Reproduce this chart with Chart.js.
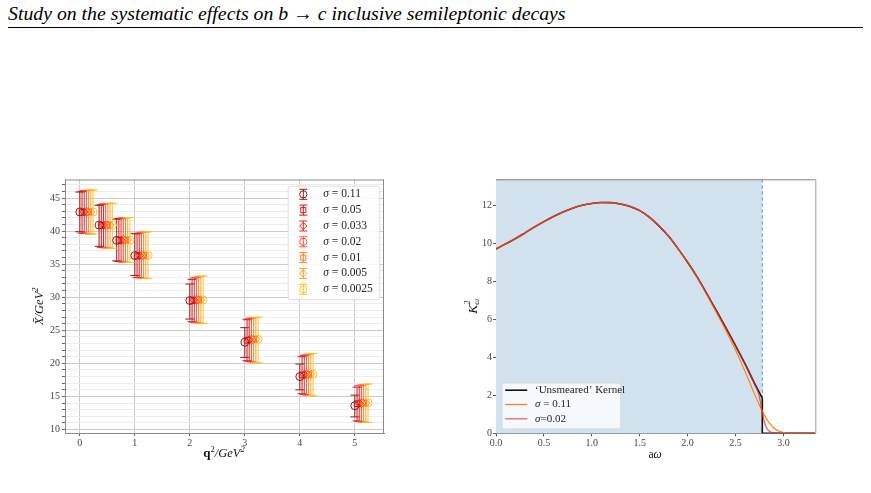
<!DOCTYPE html>
<html>
<head>
<meta charset="utf-8">
<script src="https://cdn.jsdelivr.net/npm/chart.js@4.4.0/dist/chart.umd.min.js"></script>
<style>
body { margin: 0; background: #fff; width: 871px; height: 493px; overflow: hidden; position: relative; font-family: 'Liberation Serif', serif; }
#hdr { position: absolute; left: 8px; top: 2px; font-family: 'Liberation Serif', 'Times New Roman', serif; font-style: italic; font-size: 19.8px; white-space: nowrap; color: #000; }
#rule { position: absolute; left: 8px; top: 27px; width: 855px; height: 1px; background: #000; }
#w1 { position: absolute; left: 0; top: 170px; width: 400px; height: 300px; }
#w2 { position: absolute; left: 440px; top: 170px; width: 420px; height: 300px; }
</style>
</head>
<body>
<div id="hdr">Study on the systematic effects on b → c inclusive semileptonic decays</div>
<div id="rule"></div>
<div id="w1"><canvas id="errChart" width="400" height="300"></canvas></div>
<div id="w2"><canvas id="kernelChart" width="420" height="300"></canvas></div>
<script>
// ---- left panel: X-bar vs q^2 for several sigma ----
const q2 = [0, 0.35, 0.67, 1, 2, 3, 4, 5];
const sigmas = ['0.11', '0.05', '0.033', '0.02', '0.01', '0.005', '0.0025'];

const mean_011 = [42.9, 40.9, 38.6, 36.3, 29.5, 23.2, 18.0, 13.6];
const lo_011   = [39.9, 37.7, 35.5, 33.3, 26.7, 20.9, 16.0, 11.9];
const hi_011   = [45.9, 43.9, 41.8, 39.6, 32.0, 25.4, 19.9, 15.2];

const mean_005 = [42.85, 40.85, 38.6, 36.25, 29.5, 23.5, 18.25, 13.9];
const lo_005   = [39.7, 37.55, 35.4, 33.0, 26.3, 20.4, 15.4, 11.3];
const hi_005   = [46.0, 44.0, 41.9, 39.6, 32.7, 26.6, 21.0, 16.4];

const mean_0033 = [42.9, 40.9, 38.6, 36.3, 29.55, 23.55, 18.3, 13.95];
const lo_0033   = [39.65, 37.5, 35.35, 32.95, 26.2, 20.3, 15.3, 11.2];
const hi_0033   = [46.1, 44.1, 41.95, 39.7, 32.9, 26.75, 21.2, 16.6];

const mean_002 = [42.9, 40.9, 38.65, 36.3, 29.6, 23.6, 18.3, 14.0];
const lo_002   = [39.6, 37.45, 35.3, 32.9, 26.15, 20.2, 15.2, 11.15];
const hi_002   = [46.15, 44.15, 42.0, 39.8, 33.0, 26.85, 21.3, 16.7];

const mean_001 = [42.9, 40.9, 38.65, 36.3, 29.6, 23.65, 18.35, 14.0];
const lo_001   = [39.6, 37.45, 35.3, 32.85, 26.1, 20.15, 15.15, 11.1];
const hi_001   = [46.2, 44.2, 42.0, 39.85, 33.1, 26.9, 21.4, 16.8];

const mean_0005 = [42.9, 40.9, 38.65, 36.3, 29.6, 23.65, 18.35, 14.0];
const lo_0005   = [39.55, 37.4, 35.25, 32.85, 26.05, 20.1, 15.1, 11.1];
const hi_0005   = [46.2, 44.2, 42.05, 39.85, 33.2, 26.95, 21.45, 16.85];

const mean_00025 = [42.9, 40.9, 38.65, 36.3, 29.6, 23.65, 18.35, 14.05];
const lo_00025   = [39.55, 37.4, 35.25, 32.8, 26.0, 20.1, 15.1, 11.05];
const hi_00025   = [46.2, 44.2, 42.05, 39.9, 33.2, 27.0, 21.5, 16.9];

const means = [mean_011, mean_005, mean_0033, mean_002, mean_001, mean_0005, mean_00025];
const lows  = [lo_011, lo_005, lo_0033, lo_002, lo_001, lo_0005, lo_00025];
const highs = [hi_011, hi_005, hi_0033, hi_002, hi_001, hi_0005, hi_00025];

const xTicksLeft = [0, 1, 2, 3, 4, 5];

// ---- right panel: kernel vs a*omega ----
const omega  = [0, 0.1, 0.2, 0.3, 0.4, 0.5, 0.6, 0.7, 0.8, 0.9, 1.0, 1.1, 1.2, 1.3, 1.4,
                1.5, 1.6, 1.7, 1.8, 1.9, 2.0, 2.1, 2.2, 2.3, 2.4, 2.5, 2.6, 2.7, 2.78];
const kernel = [9.70, 9.97, 10.24, 10.54, 10.85, 11.14, 11.41, 11.65, 11.85, 12.00, 12.10, 12.15, 12.14, 12.07, 11.94,
                11.72, 11.38, 10.92, 10.38, 9.72, 9.00, 8.22, 7.35, 6.45, 5.55, 4.62, 3.65, 2.62, 1.85];
const omegaDropBlack = [2.78, 2.78, 3.34];
const kDropBlack     = [1.85, 0, 0];
const omegaRed = [0, 0.1, 0.2, 0.3, 0.4, 0.5, 0.6, 0.7, 0.8, 0.9, 1.0, 1.1, 1.2, 1.3, 1.4, 1.5, 1.6, 1.7, 1.8, 1.9,
                  2.0, 2.1, 2.2, 2.3, 2.4, 2.5, 2.6, 2.7, 2.74, 2.76, 2.78, 2.8, 2.82, 2.85, 2.9, 3.0, 3.34];
const kRed     = [9.70, 9.97, 10.24, 10.54, 10.85, 11.14, 11.41, 11.65, 11.85, 12.00, 12.10, 12.15, 12.14, 12.07, 11.94, 11.72, 11.38, 10.92, 10.38, 9.72,
                  9.00, 8.22, 7.35, 6.45, 5.55, 4.62, 3.65, 2.60, 2.1, 1.65, 1.1, 0.62, 0.33, 0.12, 0.03, 0, 0];
const omegaOrange = [0, 0.1, 0.2, 0.3, 0.4, 0.5, 0.6, 0.7, 0.8, 0.9, 1.0, 1.1, 1.2, 1.3, 1.4, 1.5, 1.6, 1.7, 1.8, 1.9,
                     2.0, 2.1, 2.2, 2.3, 2.4, 2.5, 2.6, 2.7, 2.75, 2.8, 2.85, 2.9, 2.95, 3.0, 3.05, 3.1, 3.34];
const kOrange     = [9.70, 9.97, 10.24, 10.54, 10.85, 11.14, 11.41, 11.65, 11.85, 12.00, 12.10, 12.15, 12.14, 12.07, 11.94, 11.72, 11.38, 10.92, 10.38, 9.72,
                     9.00, 8.20, 7.30, 6.36, 5.40, 4.38, 3.25, 2.05, 1.48, 0.97, 0.56, 0.28, 0.12, 0.05, 0.01, 0, 0];
const omegaMax = 2.78;
const xTicksRight = [0, 0.5, 1.0, 1.5, 2.0, 2.5, 3.0];
const yTicksRight = [0, 2, 4, 6, 8, 10, 12];

// styles
const sigmaColors = ['#8e1b1b', '#d11414', '#ff1e1e', '#ff5533', '#ff7f1e', '#ffa022', '#ffc226'];
const sigmaMarkers = ['circle', 'rect', 'rectRot', 'circle', 'rect', 'rectRot', 'circle'];
const dodge = 0.04;
const serif = "'Liberation Serif', 'DejaVu Serif', serif";
const tickFont = { family: serif, size: 10 };

function drawRich(ctx, parts, cx, cy, rotate) {
    ctx.save();
    ctx.translate(cx, cy);
    if (rotate) ctx.rotate(-Math.PI / 2);
    let w = 0;
    parts.forEach(p => {
        ctx.font = p.font;
        p.w = p.noAdvance ? 0 : ctx.measureText(p.t).width;
        w += p.w;
    });
    let x = -w / 2;
    ctx.textBaseline = 'middle';
    ctx.textAlign = 'left';
    ctx.fillStyle = '#111';
    parts.forEach(p => {
        ctx.font = p.font;
        ctx.fillText(p.t, x, p.dy || 0);
        x += p.w;
    });
    ctx.restore();
}

function drawLeftText(ctx, parts, x, y) {
    ctx.save();
    ctx.textBaseline = 'middle';
    ctx.textAlign = 'left';
    ctx.fillStyle = '#222';
    parts.forEach(p => {
        ctx.font = p.font;
        ctx.fillText(p.t, x, y);
        x += ctx.measureText(p.t).width;
    });
    ctx.restore();
}

function drawErrGlyph(ctx, x, y, half, color, marker) {
    ctx.save();
    ctx.strokeStyle = color;
    ctx.lineWidth = 1;
    ctx.beginPath();
    ctx.moveTo(x, y - half); ctx.lineTo(x, y + half);
    ctx.moveTo(x - 4, y - half); ctx.lineTo(x + 4, y - half);
    ctx.moveTo(x - 4, y + half); ctx.lineTo(x + 4, y + half);
    ctx.stroke();
    ctx.fillStyle = 'rgba(0,0,0,0)';
    Chart.helpers.drawPoint(ctx, { pointStyle: marker, radius: 3.6, rotation: 0, borderWidth: 1 }, x, y);
    ctx.restore();
}

const errorBars = {
    id: 'errorBars',
    beforeDatasetsDraw(chart) {
        const { ctx, scales: { x, y } } = chart;
        chart.data.datasets.forEach((ds, i) => {
            ctx.save();
            ctx.strokeStyle = sigmaColors[i];
            ctx.lineWidth = 1;
            ds.data.forEach((pt, j) => {
                const px = x.getPixelForValue(pt.x);
                const y1 = y.getPixelForValue(lows[i][j]);
                const y2 = y.getPixelForValue(highs[i][j]);
                ctx.beginPath();
                ctx.moveTo(px, y1); ctx.lineTo(px, y2);
                ctx.moveTo(px - 4.5, y1); ctx.lineTo(px + 4.5, y1);
                ctx.moveTo(px - 4.5, y2); ctx.lineTo(px + 4.5, y2);
                ctx.stroke();
            });
            ctx.restore();
        });
    }
};

const leftDecor = {
    id: 'leftDecor',
    afterDraw(chart) {
        const { ctx, chartArea: a } = chart;
        ctx.save();
        ctx.strokeStyle = '#8a8a8a';
        ctx.lineWidth = 1;
        ctx.beginPath();
        ctx.moveTo(a.left, a.top + 0.5); ctx.lineTo(a.right, a.top + 0.5);
        ctx.moveTo(a.right - 0.5, a.top); ctx.lineTo(a.right - 0.5, a.bottom);
        ctx.stroke();

        // legend
        const bw = 91.6, bh = 113.6;
        const bx = a.right - 4.7 - bw, by = a.top + 6.2;
        ctx.fillStyle = 'rgba(255,255,255,0.85)';
        ctx.strokeStyle = '#dddddd';
        ctx.beginPath();
        ctx.roundRect(bx + 0.5, by + 0.5, bw, bh, 2);
        ctx.fill();
        ctx.stroke();
        sigmas.forEach((s, i) => {
            const yy = by + 8.6 + i * 15.83;
            drawErrGlyph(ctx, bx + 15.6, yy, 5, sigmaColors[i], sigmaMarkers[i]);
            drawLeftText(ctx, [
                { t: 'σ', font: 'italic 11.5px ' + serif },
                { t: ' = ' + s, font: '11.5px ' + serif }
            ], bx + 35.6, yy);
        });
        ctx.restore();

        drawRich(ctx, [
            { t: 'X̄/GeV', font: 'italic 12.5px ' + serif },
            { t: '2', font: 'italic 8.5px ' + serif, dy: -4.5 }
        ], 40, (a.top + a.bottom) / 2, true);
        drawRich(ctx, [
            { t: 'q', font: 'bold 13px ' + serif },
            { t: '2', font: '8.5px ' + serif, dy: -4.5 },
            { t: '/GeV', font: 'italic 12.5px ' + serif },
            { t: '2', font: 'italic 8.5px ' + serif, dy: -4.5 }
        ], (a.left + a.right) / 2 - 0.5, 284, false);
    }
};

new Chart(document.getElementById('errChart'), {
    type: 'scatter',
    data: {
        datasets: sigmas.map((s, i) => ({
            label: 'σ = ' + s,
            data: q2.map((q, j) => ({ x: q + i * dodge, y: means[i][j] })),
            pointStyle: sigmaMarkers[i],
            pointRadius: 4,
            pointBorderWidth: 1,
            borderColor: sigmaColors[i],
            backgroundColor: 'rgba(0,0,0,0)'
        }))
    },
    options: {
        responsive: false,
        animation: false,
        layout: { padding: { left: 0, top: 9.5, right: 16, bottom: 0 } },
        plugins: { legend: { display: false }, tooltip: { enabled: false } },
        scales: {
            x: {
                type: 'linear', min: -0.27, max: 5.53,
                afterBuildTicks(scale) { scale.ticks = xTicksLeft.map(v => ({ value: v })); },
                afterFit(scale) { scale.height = 37; },
                ticks: { font: tickFont, color: '#444', padding: 1, autoSkip: false, maxRotation: 0 },
                grid: { color: '#cccccc', tickLength: 3, tickColor: '#666' },
                border: { color: '#8a8a8a' }
            },
            y: {
                type: 'linear', min: 9.47, max: 47.8,
                afterBuildTicks(scale) {
                    const t = [];
                    for (let v = 10; v <= 47; v++) t.push({ value: v });
                    scale.ticks = t;
                },
                afterFit(scale) { scale.width = 65; },
                ticks: { font: tickFont, color: '#444', padding: 2, autoSkip: false, callback: v => (v % 5 === 0 ? v : '') },
                grid: {
                    color: c => (c.tick && c.tick.value % 5 === 0 ? '#cccccc' : '#ececec'),
                    tickLength: 3, tickColor: '#666'
                },
                border: { color: '#8a8a8a' }
            }
        }
    },
    plugins: [errorBars, leftDecor]
});

// ---- right chart ----
const shade = {
    id: 'shade',
    beforeDatasetsDraw(chart) {
        const { ctx, chartArea: a, scales: { x } } = chart;
        const x0 = x.getPixelForValue(0), x1 = x.getPixelForValue(omegaMax);
        ctx.save();
        ctx.fillStyle = 'rgb(209,226,238)';
        ctx.fillRect(x0, a.top, x1 - x0, a.bottom - a.top);
        ctx.strokeStyle = 'rgba(70,150,210,0.9)';
        ctx.setLineDash([3.5, 2.5]);
        ctx.lineWidth = 1;
        ctx.beginPath();
        ctx.moveTo(x1, a.top); ctx.lineTo(x1, a.bottom);
        ctx.stroke();
        ctx.restore();
    }
};

const rightDecor = {
    id: 'rightDecor',
    afterDraw(chart) {
        const { ctx, chartArea: a } = chart;
        ctx.save();
        ctx.lineWidth = 1;
        ctx.strokeStyle = '#808080';
        ctx.beginPath();
        ctx.moveTo(a.left, a.top + 0.5); ctx.lineTo(a.right, a.top + 0.5);
        ctx.stroke();
        ctx.strokeStyle = '#bdbdbd';
        ctx.lineWidth = 1.5;
        ctx.beginPath();
        ctx.moveTo(a.right, a.top); ctx.lineTo(a.right, a.bottom);
        ctx.stroke();

        // legend
        const bx = a.left + 5.7, bw = 118.3, bh = 45.6;
        const by = a.bottom - 5 - bh;
        ctx.lineWidth = 1;
        ctx.fillStyle = 'rgba(255,255,255,0.8)';
        ctx.strokeStyle = '#dddddd';
        ctx.beginPath();
        ctx.roundRect(bx + 0.5, by + 0.5, bw, bh, 2);
        ctx.fill();
        ctx.stroke();
        const items = [
            { color: '#111111', w: 1.6, parts: [{ t: '‘Unsmeared’ Kernel', font: '11px ' + serif }] },
            { color: '#ff7f0e', w: 1.2, parts: [{ t: 'σ', font: 'italic 11px ' + serif }, { t: ' = 0.11', font: '11px ' + serif }] },
            { color: 'rgba(220,50,50,0.7)', w: 1.4, parts: [{ t: 'σ', font: 'italic 11px ' + serif }, { t: '=0.02', font: '11px ' + serif }] }
        ];
        items.forEach((it, i) => {
            const yy = by + 7.5 + i * 14.3;
            ctx.strokeStyle = it.color;
            ctx.lineWidth = it.w;
            ctx.beginPath();
            ctx.moveTo(bx + 3.5, yy); ctx.lineTo(bx + 25.5, yy);
            ctx.stroke();
            drawLeftText(ctx, it.parts, bx + 33.3, yy);
        });
        ctx.restore();

        // axis titles
        drawRich(ctx, [
            { t: 'K', font: 'italic 13.5px ' + serif },
            { t: '2', font: 'italic 8.5px ' + serif, dy: -5, noAdvance: true },
            { t: 'ω', font: 'italic 8.5px ' + serif, dy: 3.5 }
        ], 33, (a.top + a.bottom) / 2, true);
        drawRich(ctx, [
            { t: 'a', font: '11.5px ' + serif },
            { t: 'ω', font: 'italic 11.5px ' + serif }
        ], 215, 285, false);
    }
};

const pts = (xs, ys) => xs.map((v, i) => ({ x: v, y: ys[i] }));

new Chart(document.getElementById('kernelChart'), {
    type: 'scatter',
    data: {
        datasets: [
            {
                label: '‘Unsmeared’ Kernel',
                data: pts(omega, kernel),
                showLine: true, pointRadius: 0, borderColor: '#111111', borderWidth: 1.6,
                cubicInterpolationMode: 'monotone', order: 4
            },
            {
                label: '',
                data: pts(omegaDropBlack, kDropBlack),
                showLine: true, pointRadius: 0, borderColor: '#111111', borderWidth: 1.6,
                tension: 0, order: 3
            },
            {
                label: 'σ = 0.11',
                data: pts(omegaOrange, kOrange),
                showLine: true, pointRadius: 0, borderColor: '#ff7f0e', borderWidth: 1.1,
                cubicInterpolationMode: 'monotone', order: 2
            },
            {
                label: 'σ=0.02',
                data: pts(omegaRed, kRed),
                showLine: true, pointRadius: 0, borderColor: 'rgba(220,45,45,0.72)', borderWidth: 1.4,
                cubicInterpolationMode: 'monotone', order: 1
            }
        ]
    },
    options: {
        responsive: false,
        animation: false,
        layout: { padding: { left: 0, top: 9.3, right: 44.3, bottom: 0 } },
        plugins: { legend: { display: false }, tooltip: { enabled: false } },
        scales: {
            x: {
                type: 'linear', min: 0, max: 3.337,
                afterBuildTicks(scale) { scale.ticks = xTicksRight.map(v => ({ value: v })); },
                afterFit(scale) { scale.height = 36.7; },
                ticks: { font: tickFont, color: '#444', padding: 1, autoSkip: false, maxRotation: 0, callback: v => v.toFixed(1) },
                grid: { drawOnChartArea: false, tickLength: 3, tickColor: '#555' },
                border: { color: '#808080' }
            },
            y: {
                type: 'linear', min: 0, max: 13.37,
                afterBuildTicks(scale) { scale.ticks = yTicksRight.map(v => ({ value: v })); },
                afterFit(scale) { scale.width = 56; },
                ticks: { font: tickFont, color: '#444', padding: 1, autoSkip: false },
                grid: { drawOnChartArea: false, tickLength: 3, tickColor: '#555' },
                border: { color: '#808080' }
            }
        }
    },
    plugins: [shade, rightDecor]
});
</script>
</body>
</html>
